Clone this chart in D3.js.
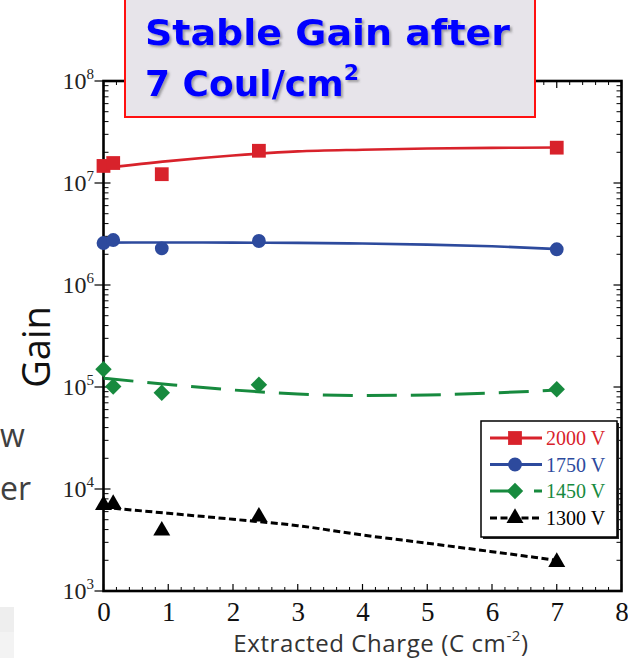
<!DOCTYPE html>
<html>
<head>
<meta charset="utf-8">
<script src="https://cdn.jsdelivr.net/npm/d3@7"></script>
<style>
  body { margin: 0; background: #fff; }
  svg { display: block; }
</style>
</head>
<body>
<svg width="628" height="658"></svg>
<script>
// measured points
var charge = [0, 0.15, 0.9, 2.4, 7];
var gain2000 = [1.47e7, 1.57e7, 1.22e7, 2.07e7, 2.22e7];
var gain1750 = [2.58e6, 2.76e6, 2.29e6, 2.70e6, 2.24e6];
var gain1450 = [1.49e5, 1.01e5, 8.8e4, 1.05e5, 9.5e4];
var gain1300 = [6.97e3, 7.13e3, 3.9e3, 5.35e3, 1.92e3];

// fitted curves
var fitCharge = [0, 1, 2, 3, 4, 5, 6, 7];
var fit2000 = [1.40e7, 1.64e7, 1.86e7, 2.04e7, 2.12e7, 2.18e7, 2.21e7, 2.23e7];
var fit1750 = [2.60e6, 2.61e6, 2.60e6, 2.59e6, 2.55e6, 2.49e6, 2.40e6, 2.25e6];
var fit1450 = [1.22e5, 1.06e5, 9.35e4, 8.53e4, 8.26e4, 8.35e4, 8.73e4, 9.35e4];
var fit1300 = [6.6e3, 5.78e3, 5.05e3, 4.37e3, 3.54e3, 2.94e3, 2.43e3, 2.0e3];

var seriesNames = ["2000 V", "1750 V", "1450 V", "1300 V"];
var xTicks = [0, 1, 2, 3, 4, 5, 6, 7, 8];
var yExponents = [3, 4, 5, 6, 7, 8];

var svg = d3.select("svg");

var x = d3.scaleLinear().domain([0, 8]).range([103.5, 621.5]);
var y = d3.scaleLog().domain([1e3, 1e8]).range([591, 81]);

var series = [
  { name: seriesNames[0], color: "#d8222b", pts: gain2000, fit: fit2000, dash: null, sym: "square" },
  { name: seriesNames[1], color: "#2d4a9d", pts: gain1750, fit: fit1750, dash: null, sym: "circle" },
  { name: seriesNames[2], color: "#178a3e", pts: gain1450, fit: fit1450, dash: "30,14", sym: "diamond" },
  { name: seriesNames[3], color: "#000000", pts: gain1300, fit: fit1300, dash: "7,3.5", sym: "triangle" }
];

function marker(sel, sym, color) {
  if (sym == "square") sel.append("path").attr("d", d3.symbol(d3.symbolSquare, 190)()).attr("fill", color);
  else if (sym == "circle") sel.append("path").attr("d", d3.symbol(d3.symbolCircle, 150)()).attr("fill", color);
  else if (sym == "diamond") sel.append("path").attr("d", d3.symbol(d3.symbolSquare, 135)()).attr("transform", "rotate(45)").attr("fill", color);
  else sel.append("path").attr("d", d3.symbol(d3.symbolTriangle, 125)()).attr("fill", color);
}

// slide remnants on the left
svg.append("rect").attr("x", 0).attr("y", 607).attr("width", 14).attr("height", 25).attr("fill", "#eeeeee");
svg.append("rect").attr("x", 0).attr("y", 632).attr("width", 14).attr("height", 26).attr("fill", "#f3f3f3");
svg.append("text").attr("x", 0).attr("y", 447).text("w")
  .attr("font-family", "Open Sans").attr("font-size", 32).attr("fill", "#404040");
svg.append("text").attr("x", 0).attr("y", 500).text("er")
  .attr("font-family", "Open Sans").attr("font-size", 32).attr("fill", "#404040");

// frame
var plot = svg.append("g");
plot.append("rect")
  .attr("x", x(0)).attr("y", y(1e8))
  .attr("width", x(8) - x(0)).attr("height", y(1e3) - y(1e8))
  .attr("fill", "none").attr("stroke", "#000").attr("stroke-width", 2.6);

// x ticks (bottom + top, inward)
var xMinor = d3.range(0, 8.001, 0.2).filter(function(v) { return Math.abs(v - Math.round(v)) > 0.01; });
[y(1e3), y(1e8)].forEach(function(yy, i) {
  var dir = i == 0 ? -1 : 1;
  plot.selectAll(null).data(xTicks).enter().append("line")
    .attr("x1", function(d) { return x(d); }).attr("x2", function(d) { return x(d); })
    .attr("y1", yy).attr("y2", yy + dir * 7)
    .attr("stroke", "#000").attr("stroke-width", 1.2);
  plot.selectAll(null).data(xMinor).enter().append("line")
    .attr("x1", function(d) { return x(d); }).attr("x2", function(d) { return x(d); })
    .attr("y1", yy).attr("y2", yy + dir * 4)
    .attr("stroke", "#000").attr("stroke-width", 1);
});

var xAxis = svg.append("g").attr("transform", "translate(0," + y(1e3) + ")")
  .call(d3.axisBottom(x).tickValues(xTicks).tickSize(0).tickPadding(11).tickFormat(d3.format("d")));
xAxis.select(".domain").remove();
xAxis.selectAll("text").attr("font-family", "Liberation Serif, Times New Roman, serif")
  .attr("font-size", 27).attr("fill", "#111");

// y ticks
var yMajor = yExponents.map(function(e) { return Math.pow(10, e); });
var yMinor = [];
yExponents.slice(0, -1).forEach(function(e) {
  for (var k = 2; k <= 9; k++) yMinor.push(k * Math.pow(10, e));
});
plot.selectAll(null).data(yMajor).enter().append("line")
  .attr("x1", x(0) - 9).attr("x2", x(0) + 7)
  .attr("y1", function(d) { return y(d); }).attr("y2", function(d) { return y(d); })
  .attr("stroke", "#000").attr("stroke-width", 1.2);
plot.selectAll(null).data(yMajor).enter().append("line")
  .attr("x1", x(8) - 8).attr("x2", x(8))
  .attr("y1", function(d) { return y(d); }).attr("y2", function(d) { return y(d); })
  .attr("stroke", "#000").attr("stroke-width", 1.2);
[[x(0), 1], [x(8), -1]].forEach(function(p) {
  plot.selectAll(null).data(yMinor).enter().append("line")
    .attr("x1", p[0]).attr("x2", p[0] + p[1] * 5)
    .attr("y1", function(d) { return y(d); }).attr("y2", function(d) { return y(d); })
    .attr("stroke", "#000").attr("stroke-width", 1);
});

var yLab = svg.append("g").selectAll("text").data(yExponents).enter().append("text")
  .attr("x", 94).attr("y", function(e) { return y(Math.pow(10, e)) + 8; })
  .attr("text-anchor", "end")
  .attr("font-family", "Liberation Serif, Times New Roman, serif").attr("fill", "#222");
yLab.append("tspan").attr("font-size", 24).text("10");
yLab.append("tspan").attr("font-size", 15).attr("dy", -10).text(function(e) { return e; });

// axis titles
svg.append("text")
  .attr("transform", "translate(50,347) rotate(-90)")
  .attr("text-anchor", "middle")
  .attr("font-family", "Open Sans").attr("font-size", 38).attr("fill", "#111")
  .text("Gain");

var xt = svg.append("text").attr("x", 381).attr("y", 652).attr("text-anchor", "middle")
  .attr("font-family", "Open Sans").attr("font-size", 24).attr("letter-spacing", 0.6).attr("fill", "#333");
xt.append("tspan").text("Extracted Charge (C cm");
xt.append("tspan").attr("font-size", 15).attr("dy", -11).text("-2");
xt.append("tspan").attr("dy", 11).text(")");

// series
var line = d3.line()
  .x(function(d) { return x(d[0]); })
  .y(function(d) { return y(d[1]); })
  .curve(d3.curveMonotoneX);

series.forEach(function(s) {
  svg.append("path")
    .attr("d", line(fitCharge.map(function(c, i) { return [c, s.fit[i]]; })))
    .attr("fill", "none").attr("stroke", s.color)
    .attr("stroke-width", s.dash ? 3 : 2.6)
    .attr("stroke-dasharray", s.dash);
  svg.append("g").selectAll("g").data(charge).enter().append("g")
    .attr("transform", function(c, i) { return "translate(" + x(c) + "," + y(s.pts[i]) + ")"; })
    .each(function() { marker(d3.select(this), s.sym, s.color); });
});

// legend
var lg = svg.append("g");
lg.append("rect").attr("x", 483).attr("y", 423).attr("width", 136).attr("height", 116).attr("fill", "#222");
lg.append("rect").attr("x", 481).attr("y", 421).attr("width", 136).attr("height", 116)
  .attr("fill", "#fff").attr("stroke", "#000").attr("stroke-width", 1.5);
var rowY = [438, 464.5, 491, 518];
series.forEach(function(s, i) {
  var r = lg.append("g").attr("transform", "translate(0," + rowY[i] + ")");
  r.append("line").attr("x1", 490).attr("x2", 542).attr("y1", 0).attr("y2", 0)
    .attr("stroke", s.color).attr("stroke-width", 3).attr("stroke-dasharray", s.dash);
  marker(r.append("g").attr("transform", "translate(515,0)"), s.sym, s.color);
  r.append("text").attr("x", 546).attr("y", 7).text(s.name)
    .attr("font-family", "Liberation Serif, Times New Roman, serif").attr("font-size", 20)
    .attr("fill", s.color);
});

// callout box
var defs = svg.append("defs");
defs.append("filter").attr("id", "sh").attr("x", "-10%").attr("y", "-10%").attr("width", "130%").attr("height", "140%")
  .append("feDropShadow").attr("dx", 2).attr("dy", 2).attr("stdDeviation", 1)
  .attr("flood-color", "#555").attr("flood-opacity", 0.5);
svg.append("rect").attr("x", 125).attr("y", -4).attr("width", 410).attr("height", 121)
  .attr("fill", "#e7e4ea").attr("stroke", "#ff1010").attr("stroke-width", 2);
var cap = svg.append("g").attr("filter", "url(#sh)")
  .attr("font-family", "DejaVu Sans").attr("font-weight", "bold").attr("font-size", 36).attr("fill", "#0000ff");
cap.append("text").attr("x", 145).attr("y", 45).attr("textLength", 365).attr("lengthAdjust", "spacingAndGlyphs")
  .text("Stable Gain after");
var l2 = cap.append("text").attr("x", 145).attr("y", 96);
l2.append("tspan").text("7 Coul/cm");
l2.append("tspan").attr("font-size", 22).attr("dy", -16).text("2");
</script>
</body>
</html>
